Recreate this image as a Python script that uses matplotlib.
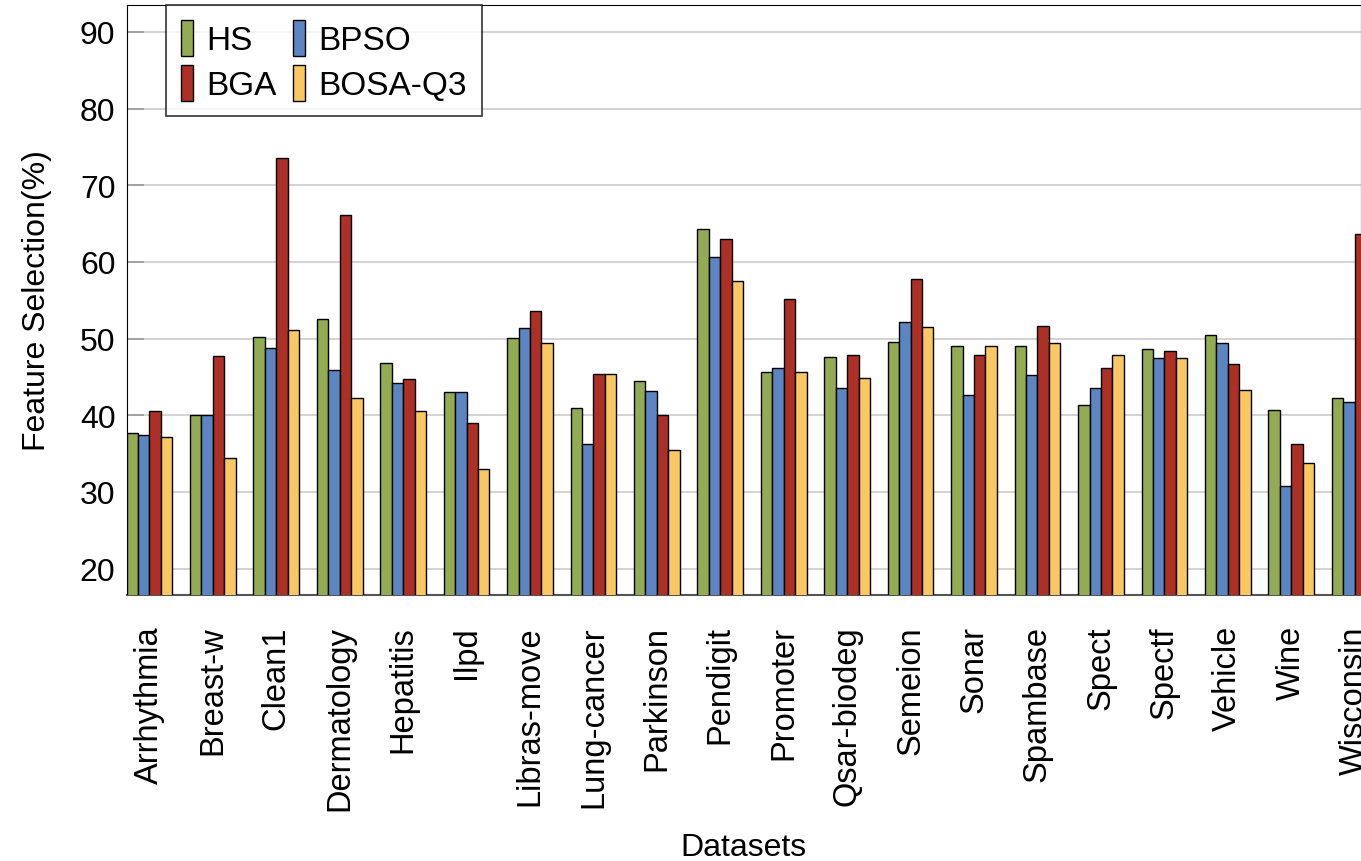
import numpy as np
import matplotlib
matplotlib.use("Agg")
import matplotlib.pyplot as plt

plt.rcParams["font.family"] = ["Liberation Sans", "DejaVu Sans"]

datasets = ["Arrhythmia", "Breast-w", "Clean1", "Dermatology", "Hepatitis", "Ilpd",
            "Libras-move", "Lung-cancer", "Parkinson", "Pendigit", "Promoter",
            "Qsar-biodeg", "Semeion", "Sonar", "Spambase", "Spect", "Spectf",
            "Vehicle", "Wine", "Wisconsin"]
hs = [37.65, 40.0, 50.2, 52.6, 46.8, 43.0, 50.1, 40.9, 44.5, 64.3,
      45.6, 47.6, 49.5, 49.0, 49.0, 41.3, 48.6, 50.5, 40.7, 42.3]
bpso = [37.4, 40.0, 48.8, 45.9, 44.2, 43.0, 51.4, 36.3, 43.2, 60.6,
        46.1, 43.6, 52.1, 42.7, 45.2, 43.5, 47.5, 49.4, 30.8, 41.7]
bga = [40.6, 47.7, 73.5, 66.1, 44.7, 39.0, 53.6, 45.4, 40.0, 63.0,
       55.1, 47.8, 57.8, 47.8, 51.7, 46.1, 48.4, 46.7, 36.2, 63.7]
bosa = [37.2, 34.4, 51.1, 42.3, 40.5, 33.0, 49.4, 45.4, 35.5, 57.5,
        45.6, 44.8, 51.5, 49.0, 49.4, 47.8, 47.5, 43.3, 33.8, 40.0]  # last one is cut off in the source

series = [("HS", hs, "#93AB52"), ("BPSO", bpso, "#5B85C3"),
          ("BGA", bga, "#AD3026"), ("BOSA-Q3", bosa, "#F9C862")]

FS = 23
W = 0.18

fig = plt.figure(figsize=(13.61, 8.62), dpi=100)
ax = fig.add_axes([0.093, 0.309, 0.907, 0.684])

x = np.arange(len(datasets))
handles = []
for i, (name, vals, col) in enumerate(series):
    b = ax.bar(x + (i - 1.5) * W, vals, width=W, color=col, edgecolor="black",
               linewidth=1.0, label=name, zorder=3)
    handles.append(b)

ax.set_xlim(-0.36, 19.1)
ax.set_ylim(16.6, 93.5)
ax.set_yticks(np.arange(20, 91, 10))
ax.grid(axis="y", color="#cccccc", lw=1.2, zorder=0)
ax.tick_params(axis="y", direction="in", length=12, width=1.2, color="#999999",
               labelsize=FS, pad=8)
ax.set_xticks(x)
ax.set_xticklabels(datasets, rotation=90, fontsize=23.5)
ax.tick_params(axis="x", length=0, pad=22)
for s in ["top", "right"]:
    ax.spines[s].set_color("black")
ax.spines["bottom"].set_color("#555555")
ax.spines["bottom"].set_linewidth(1.5)

ax.set_ylabel("Feature Selection(%)", fontsize=FS, labelpad=20)
ax.set_xlabel("Datasets", fontsize=FS, labelpad=16)

# legend order: column-first -> HS, BGA | BPSO, BOSA-Q3
order = [0, 2, 1, 3]
leg = ax.legend([handles[k] for k in order], [series[k][0] for k in order],
                ncol=2, loc="upper left", bbox_to_anchor=(0.032, 1.0),
                borderaxespad=0, fontsize=24, frameon=True, fancybox=False,
                edgecolor="black", handlelength=0.35, handleheight=1.3,
                handletextpad=0.4, columnspacing=0.5, borderpad=0.45,
                labelspacing=0.25)
leg.get_frame().set_linewidth(1.2)

fig.savefig("out.png", dpi=100)
